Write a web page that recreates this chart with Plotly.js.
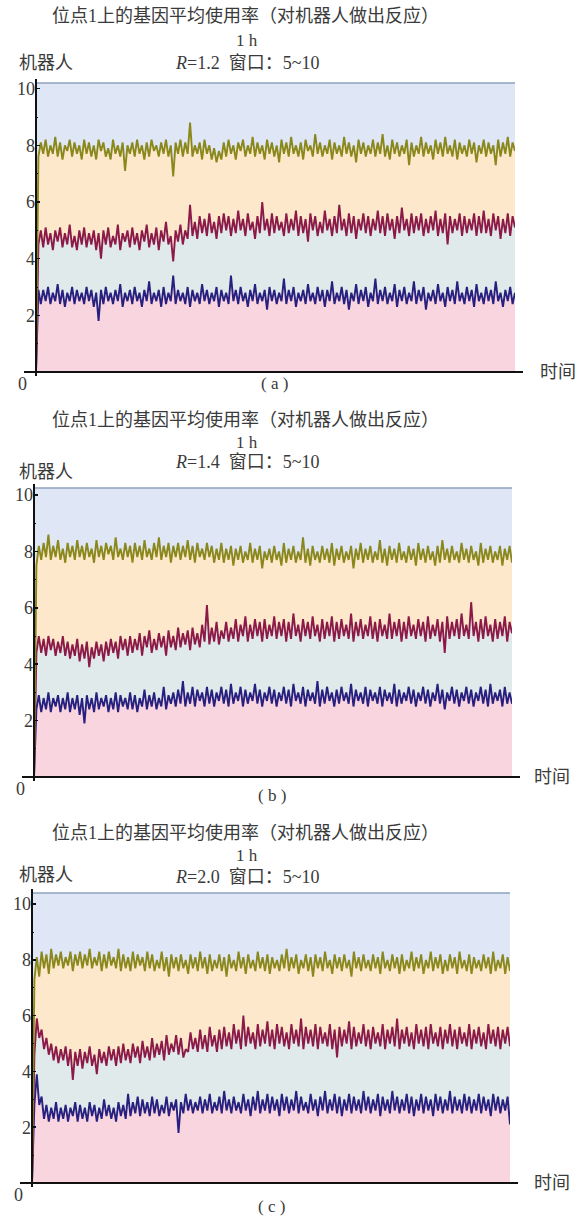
<!DOCTYPE html>
<html>
<head>
<meta charset="utf-8">
<script src="https://cdn.plot.ly/plotly-3.0.1.min.js"></script>
<style>
  html, body { margin: 0; padding: 0; background: #ffffff; }
  #chart { width: 578px; height: 1216px; }
</style>
</head>
<body>
<div id="chart"></div>
<script>
// Mean gene usage at locus 1, three runs (R = 1.2, 1.4, 2.0), three gene groups each.

const panelTags = ['( a )', '( b )', '( c )'];
const rValues = ['1.2', '1.4', '2.0'];
const yTickVals = [2, 4, 6, 8, 10];

// Run (a), R = 1.2
const aOlive = [
  0,7.6,8.1,7.7,8.2,7.6,8.0,7.7,8.3,7.6,8.1,7.5,8.0,7.8,8.2,7.6,8.1,7.7,8.0,7.5,
  8.2,7.7,8.1,7.6,8.0,7.5,8.2,7.8,8.1,7.6,7.9,7.5,8.2,7.7,8.0,7.6,8.1,7.1,8.0,7.7,
  8.1,7.6,8.2,7.7,8.0,7.5,8.1,7.6,8.2,7.8,8.0,7.6,8.1,7.7,8.2,7.6,8.0,6.9,8.1,7.7,
  8.2,7.6,8.1,7.7,8.8,7.6,8.0,7.7,8.1,7.5,8.2,7.7,8.0,7.5,7.9,7.4,7.8,7.5,8.1,7.6,
  8.2,7.7,8.0,7.5,8.1,7.8,8.2,7.6,8.0,7.7,8.3,7.6,8.1,7.7,8.0,7.5,8.2,7.7,8.1,7.6,
  8.0,7.4,8.2,7.7,8.1,7.6,8.3,7.7,8.0,7.6,8.1,7.5,8.2,7.8,8.0,7.6,8.4,7.7,8.1,7.6,
  8.0,7.7,8.2,7.5,8.1,7.7,8.0,7.6,8.3,7.7,8.1,7.6,8.0,7.4,8.2,7.7,8.1,7.6,8.0,7.7,
  8.2,7.6,8.1,7.7,8.4,7.6,8.0,7.5,8.2,7.7,8.1,7.6,8.0,7.7,8.2,7.3,8.1,7.6,8.0,7.7,
  8.3,7.6,8.1,7.7,8.0,7.5,8.2,7.7,8.1,7.6,8.3,7.7,8.0,7.6,8.2,7.5,8.1,7.7,8.0,7.6,
  8.2,7.7,8.1,7.4,8.0,7.7,8.2,7.6,8.1,7.7,8.0,7.3,8.2,7.6,8.1,7.7,8.3,7.6,8.1,7.8];
const aRed = [
  0,4.5,5.0,4.4,5.1,4.5,4.9,4.3,5.0,4.6,5.1,4.4,4.9,4.5,5.2,4.4,4.8,4.3,5.0,4.5,
  5.1,4.4,4.9,4.5,5.0,4.3,4.9,4.0,5.0,4.5,5.1,4.4,4.8,4.5,5.2,4.3,4.9,4.6,5.0,4.4,
  5.1,4.5,4.9,4.3,5.0,4.6,5.2,4.4,4.9,4.5,5.1,4.3,5.0,4.6,5.3,4.5,4.8,3.9,5.0,4.6,
  5.2,4.5,5.0,4.7,5.9,4.8,5.3,4.7,5.5,4.9,5.4,4.8,5.6,4.9,5.3,4.7,5.5,4.9,5.6,5.0,
  5.5,4.8,5.4,4.9,5.7,5.0,5.4,4.8,5.6,5.0,5.3,4.7,5.5,4.9,6.0,5.0,5.4,4.8,5.6,4.9,
  5.5,5.0,5.3,4.8,5.6,4.9,5.4,5.0,5.7,4.8,5.5,4.9,5.4,4.6,5.6,5.0,5.5,4.8,5.3,4.9,
  5.7,5.0,5.4,4.8,5.5,4.9,5.9,5.0,5.4,4.8,5.6,4.9,5.5,4.7,5.4,5.0,5.6,4.9,5.5,4.8,
  5.4,5.0,5.7,4.9,5.5,4.8,5.6,5.0,5.4,4.7,5.5,4.9,5.8,5.0,5.4,4.8,5.6,4.9,5.5,5.0,
  5.6,4.8,5.4,4.9,5.5,5.0,5.7,4.8,5.4,4.9,5.6,4.5,5.5,4.9,5.4,5.0,5.6,4.8,5.5,4.9,
  5.4,5.0,5.6,4.8,5.5,4.9,5.7,4.9,5.4,4.8,5.6,5.0,5.5,4.7,5.4,4.9,5.6,4.8,5.5,5.1];
const aBlue = [
  0,2.9,2.4,2.9,2.5,3.0,2.4,2.8,2.5,3.1,2.4,2.9,2.3,2.8,2.5,3.0,2.4,2.9,2.5,2.8,
  2.4,3.0,2.5,2.9,2.3,2.8,1.8,2.9,2.4,3.0,2.5,2.8,2.4,2.9,2.5,3.1,2.3,2.8,2.5,2.9,
  2.4,3.0,2.5,2.8,2.3,2.9,2.5,3.2,2.4,2.8,2.5,2.9,2.3,3.0,2.4,2.8,2.5,3.4,2.4,2.9,
  2.5,2.8,2.4,3.0,2.3,2.9,2.5,2.8,2.4,3.1,2.5,2.9,2.4,2.8,2.5,3.0,2.3,2.9,2.5,2.8,
  2.4,3.4,2.5,2.9,2.4,3.0,2.5,2.8,2.3,2.9,2.5,3.1,2.4,2.8,2.5,2.9,2.2,3.0,2.5,2.9,
  2.4,2.8,2.5,3.3,2.4,2.9,2.5,3.0,2.3,2.8,2.5,2.9,2.4,3.1,2.5,2.8,2.4,3.0,2.5,2.9,
  2.3,2.9,2.5,3.2,2.4,2.8,2.5,3.0,2.4,2.9,2.2,2.8,2.5,3.1,2.4,2.9,2.5,3.0,2.3,2.8,
  2.5,3.3,2.4,2.9,2.5,3.0,2.4,2.8,2.5,3.1,2.3,2.9,2.5,3.0,2.4,2.8,2.5,3.2,2.4,2.9,
  2.5,3.0,2.2,2.8,2.5,2.9,2.4,3.1,2.5,2.8,2.3,3.0,2.5,2.9,2.4,3.2,2.5,2.8,2.4,3.0,
  2.5,2.9,2.3,3.1,2.5,2.8,2.4,3.0,2.5,2.9,2.4,3.2,2.5,2.8,2.3,2.9,2.5,3.0,2.4,2.8];

// Run (b), R = 1.4
const bOlive = [
  0,7.5,8.2,7.7,8.3,7.8,8.6,7.7,8.2,7.8,8.4,7.7,8.1,7.6,8.3,7.8,8.2,7.7,8.4,7.8,
  8.2,7.7,8.3,7.8,8.1,7.6,8.4,7.8,8.2,7.7,8.3,7.9,8.2,7.7,8.5,7.8,8.1,7.7,8.3,7.8,
  8.2,7.6,8.3,7.8,8.2,7.7,8.4,7.8,8.1,7.7,8.3,7.8,8.5,7.7,8.2,7.8,8.3,7.6,8.2,7.8,
  8.3,7.7,8.2,7.8,8.4,7.7,8.2,7.6,8.3,7.8,8.1,7.7,8.3,7.8,8.2,7.6,8.1,7.7,8.3,7.6,
  8.1,7.7,8.2,7.5,8.1,7.7,8.2,7.6,8.0,7.7,8.3,7.6,8.1,7.7,8.2,7.4,8.0,7.7,8.1,7.6,
  8.2,7.7,8.0,7.5,8.3,7.6,8.1,7.7,8.2,7.6,8.0,7.7,8.5,7.6,8.1,7.5,8.2,7.7,8.0,7.6,
  8.2,7.7,8.1,7.6,8.3,7.5,8.1,7.7,8.2,7.6,8.0,7.7,8.2,7.4,8.1,7.7,8.3,7.6,8.1,7.7,
  8.2,7.6,8.0,7.7,8.4,7.6,8.1,7.5,8.2,7.7,8.1,7.6,8.3,7.7,8.0,7.6,8.2,7.7,8.1,7.5,
  8.3,7.7,8.1,7.6,8.2,7.7,8.0,7.5,8.2,7.6,8.4,7.7,8.1,7.6,8.2,7.7,8.0,7.6,8.3,7.7,
  8.1,7.6,8.2,7.7,8.0,7.5,8.3,7.6,8.1,7.7,8.2,7.6,8.0,7.7,8.2,7.5,8.1,7.7,8.2,7.6];
const bRed = [
  0,4.4,5.0,4.4,4.9,4.3,5.0,4.5,4.9,4.3,4.8,4.4,5.0,4.3,4.8,4.2,4.7,4.3,4.9,4.1,
  4.7,4.2,4.8,3.9,4.6,4.2,4.8,4.3,4.7,4.1,4.8,4.3,4.9,4.4,4.8,4.2,5.0,4.5,4.9,4.3,
  5.0,4.4,4.9,4.5,5.1,4.3,5.0,4.6,5.2,4.4,4.9,4.5,5.1,4.6,5.0,4.3,5.2,4.6,5.0,4.5,
  5.3,4.6,5.1,4.7,5.2,4.5,5.3,4.7,5.1,4.6,5.4,4.8,6.1,4.7,5.3,4.8,5.5,4.7,5.2,4.9,
  5.5,4.8,5.3,4.9,5.6,4.8,5.4,5.0,5.7,4.8,5.4,4.9,5.6,5.0,5.5,4.8,5.6,4.9,5.4,5.0,
  5.7,4.9,5.5,5.0,5.6,4.8,5.5,4.9,5.8,5.0,5.4,4.8,5.6,5.0,5.5,4.9,5.7,5.0,5.4,4.8,
  5.6,4.9,5.5,5.0,5.7,4.8,5.5,4.9,5.6,5.0,5.4,4.9,5.8,4.8,5.5,5.0,5.6,4.9,5.4,5.0,
  5.7,4.9,5.5,4.8,5.6,5.0,5.4,4.9,5.8,4.9,5.5,5.0,5.6,4.8,5.5,4.9,5.7,5.0,5.4,4.9,
  5.6,5.0,5.5,4.8,5.7,4.9,5.4,5.0,5.6,4.8,5.5,4.4,5.7,4.9,5.5,5.0,5.6,4.9,5.8,5.0,
  5.4,4.9,6.2,5.0,5.5,4.8,5.6,4.9,5.7,5.0,5.4,4.8,5.6,4.9,5.5,5.0,5.7,4.8,5.5,5.1];
const bBlue = [
  0,2.4,2.9,2.3,2.8,2.4,3.0,2.3,2.8,2.5,2.9,2.3,2.8,2.4,3.0,2.3,2.8,2.4,2.9,2.2,
  2.8,1.9,2.9,2.4,2.8,2.3,3.0,2.4,2.8,2.5,2.9,2.3,2.8,2.4,3.0,2.3,2.9,2.5,2.8,2.4,
  3.0,2.4,2.9,2.3,2.8,2.5,3.1,2.4,2.9,2.5,3.0,2.4,2.8,2.5,3.2,2.4,2.9,2.6,3.0,2.5,
  3.1,2.6,3.4,2.5,3.0,2.6,3.2,2.5,3.1,2.7,3.0,2.5,3.2,2.6,3.1,2.5,3.0,2.7,3.2,2.6,
  3.1,2.5,3.3,2.6,3.0,2.7,3.2,2.5,3.1,2.6,3.0,2.7,3.3,2.6,3.1,2.5,3.0,2.7,3.2,2.6,
  3.1,2.5,3.0,2.7,3.2,2.6,3.1,2.5,3.3,2.7,3.0,2.6,3.2,2.5,3.1,2.7,3.0,2.6,3.4,2.5,
  3.1,2.6,3.2,2.7,3.0,2.5,3.1,2.6,3.2,2.7,3.0,2.6,3.3,2.5,3.1,2.7,3.0,2.6,3.2,2.5,
  3.1,2.7,3.0,2.6,3.2,2.5,3.1,2.7,3.0,2.6,3.3,2.5,3.1,2.6,3.0,2.7,3.2,2.6,3.1,2.5,
  3.0,2.7,3.2,2.6,3.1,2.5,3.0,2.7,3.3,2.6,3.1,2.4,3.0,2.7,3.2,2.6,3.1,2.5,3.0,2.7,
  3.2,2.6,3.1,2.5,3.0,2.7,3.2,2.6,3.1,2.5,3.3,2.6,3.0,2.7,3.1,2.5,3.2,2.6,3.0,2.6];

// Run (c), R = 2.0
const cOlive = [
  0,7.3,8.1,7.4,8.3,7.7,8.2,7.5,8.4,7.7,8.2,7.8,8.3,7.7,8.1,7.8,8.3,7.6,8.2,7.8,
  8.3,7.7,8.2,7.8,8.4,7.7,8.1,7.8,8.3,7.6,8.2,7.7,8.3,7.8,8.1,7.7,8.4,7.6,8.2,7.7,
  8.1,7.6,8.3,7.7,8.2,7.8,8.1,7.6,8.3,7.7,8.2,7.6,8.0,7.7,8.3,7.6,8.1,7.4,8.2,7.7,
  8.1,7.6,8.2,7.7,8.0,7.5,8.2,7.7,8.1,7.6,8.3,7.7,8.1,7.5,8.2,7.6,8.0,7.7,8.2,7.6,
  8.1,7.4,8.2,7.7,8.0,7.6,8.3,7.7,8.1,7.5,8.2,7.7,8.0,7.6,8.3,7.7,8.1,7.6,8.2,7.5,
  8.1,7.7,8.0,7.6,8.2,7.7,8.4,7.6,8.1,7.7,8.2,7.5,8.0,7.7,8.2,7.6,8.1,7.4,8.2,7.7,
  8.1,7.6,8.3,7.7,8.0,7.5,8.2,7.7,8.1,7.6,8.2,7.7,8.0,7.4,8.3,7.7,8.1,7.6,8.2,7.7,
  8.0,7.6,8.2,7.7,8.1,7.5,8.3,7.7,8.0,7.6,8.2,7.7,8.1,7.5,8.2,7.6,8.0,7.7,8.3,7.6,
  8.1,7.7,8.2,7.5,8.0,7.7,8.3,7.6,8.1,7.7,8.2,7.5,8.0,7.6,8.2,7.7,8.1,7.5,8.3,7.7,
  8.0,7.6,8.2,7.5,8.1,7.7,8.0,7.6,8.2,7.7,8.1,7.5,8.3,7.6,8.0,7.7,8.2,7.5,8.1,7.6];
const cRed = [
  0,4.6,5.9,5.2,5.5,4.8,5.2,4.6,5.0,4.4,4.9,4.3,4.8,4.4,4.9,4.2,4.8,3.7,4.7,4.2,
  4.8,4.1,4.7,4.3,4.9,4.2,4.6,3.9,4.8,4.3,4.7,4.2,4.9,4.4,4.8,4.2,4.9,4.3,5.0,4.4,
  4.8,4.3,5.0,4.5,4.9,4.3,5.1,4.5,4.9,4.4,5.2,4.5,5.0,4.6,5.1,4.4,5.3,4.6,5.0,4.7,
  5.3,4.6,5.2,4.5,4.8,4.7,5.4,4.8,5.2,4.7,5.5,4.8,5.3,4.7,5.6,4.9,5.3,4.7,5.5,4.8,
  5.6,4.9,5.4,4.8,5.7,5.0,5.5,4.8,6.0,4.9,5.6,5.0,5.4,4.8,5.7,4.9,5.5,5.0,5.8,4.9,
  5.5,4.8,5.7,5.0,5.6,4.9,5.4,4.8,5.7,5.0,5.5,4.9,5.9,4.8,5.6,5.0,5.5,4.9,5.7,4.8,
  5.6,5.0,5.4,4.9,5.7,4.8,5.5,4.5,5.6,4.9,5.5,5.0,5.8,4.8,5.6,4.9,5.4,5.0,5.7,4.9,
  5.5,4.8,5.6,5.0,5.4,4.9,5.7,4.8,5.5,5.0,5.6,4.9,5.9,4.8,5.5,5.0,5.6,4.9,5.4,4.8,
  5.7,5.0,5.5,4.9,5.6,4.8,5.7,5.0,5.4,4.9,5.6,4.8,5.5,5.0,5.7,4.9,5.5,4.8,5.6,5.0,
  5.4,4.9,5.7,4.8,5.5,5.0,5.6,4.9,5.4,4.8,5.7,5.0,5.5,4.9,5.6,4.8,5.5,5.0,5.6,4.9];
const cBlue = [
  0,2.8,3.9,2.8,3.1,2.3,2.8,2.2,2.7,2.3,2.9,2.2,2.7,2.3,2.8,2.2,2.7,2.4,2.9,2.2,
  2.8,2.3,2.7,2.2,2.9,2.4,2.8,2.2,2.7,2.3,3.0,2.4,2.8,2.3,2.7,2.2,2.9,2.4,2.8,2.3,
  3.2,2.4,2.9,2.5,3.1,2.4,3.0,2.5,2.9,2.4,3.1,2.5,3.0,2.4,2.8,2.5,3.1,2.4,2.9,2.6,
  3.0,1.8,2.9,2.5,3.2,2.6,3.0,2.5,2.9,2.6,3.1,2.5,3.0,2.6,3.2,2.5,2.9,2.6,3.1,2.5,
  3.3,2.6,3.0,2.5,3.1,2.6,2.9,2.5,3.2,2.6,3.0,2.4,3.1,2.6,3.3,2.5,3.0,2.6,3.2,2.5,
  3.1,2.6,3.0,2.4,3.2,2.6,3.1,2.5,3.0,2.6,3.3,2.5,3.1,2.6,2.9,2.5,3.2,2.6,3.0,2.4,
  3.1,2.6,3.3,2.5,3.0,2.6,3.2,2.5,3.1,2.4,3.0,2.6,3.2,2.5,3.1,2.6,3.0,2.5,3.3,2.6,
  3.1,2.5,3.0,2.6,3.2,2.4,3.1,2.6,3.0,2.5,3.3,2.6,3.1,2.5,3.0,2.6,3.2,2.5,3.1,2.4,
  3.0,2.6,3.2,2.5,3.1,2.6,3.0,2.4,3.2,2.6,3.1,2.5,3.0,2.6,3.3,2.5,3.1,2.6,3.0,2.5,
  3.2,2.6,3.1,2.5,3.0,2.6,3.2,2.5,3.1,2.6,3.0,2.4,3.2,2.6,3.1,2.5,3.0,2.6,3.1,2.1];

const runs = [
  { olive: aOlive, red: aRed, blue: aBlue },
  { olive: bOlive, red: bRed, blue: bBlue },
  { olive: cOlive, red: cRed, blue: cBlue }
];

// ---- page geometry (pixels) ----
const W = 578, H = 1216;
const px = v => v / W;
const py = v => 1 - v / H;

const frames = [
  { left: 36, right: 515, zero: 372, top: 83,  ymax: 10.2,  titleY: 16,  hY: 40,  rY: 63,  robotY: 63,  timeX: 538, tagX: 274, tagY: 383 },
  { left: 34, right: 512, zero: 777, top: 488, ymax: 10.25, titleY: 420, hY: 442, rY: 462, robotY: 472, timeX: 532, tagX: 272, tagY: 795 },
  { left: 32, right: 510, zero: 1183, top: 893, ymax: 10.4, titleY: 833, hY: 855, rY: 877, robotY: 875, timeX: 532, tagX: 271, tagY: 1206 }
];

const COL = {
  olive: '#8a881c', red: '#8c1a48', blue: '#28207f',
  pink: '#f9d5df', mid: '#e0eaeb', orange: '#fde8cb', sky: '#dfe7f6',
  text: '#3a3a3a', axis: '#111111', topLine: '#8ea2bd'
};
const SERIF = 'Liberation Serif, DejaVu Serif, serif';
const CJK = 'Liberation Serif, Noto Sans CJK SC, sans-serif';

const traces = [];
const layout = {
  width: W, height: H,
  margin: { l: 0, r: 0, t: 0, b: 0 },
  paper_bgcolor: '#ffffff',
  plot_bgcolor: COL.sky,
  showlegend: false,
  shapes: [],
  annotations: []
};

runs.forEach((run, k) => {
  const f = frames[k];
  const sfx = k === 0 ? '' : String(k + 1);
  const xa = 'x' + sfx, ya = 'y' + sfx;
  const steps = run.blue.map((_, i) => i);

  const line = (ys, color, fill, fillcolor) => ({
    type: 'scatter', mode: 'lines', x: steps, y: ys,
    xaxis: xa, yaxis: ya,
    line: { color: color, width: 1.9 },
    fill: fill, fillcolor: fillcolor,
    hoverinfo: 'skip'
  });
  traces.push(line(run.blue, COL.blue, 'tozeroy', COL.pink));
  traces.push(line(run.red, COL.red, 'tonexty', COL.mid));
  traces.push(line(run.olive, COL.olive, 'tonexty', COL.orange));

  layout['xaxis' + sfx] = {
    domain: [px(f.left), px(f.right)],
    range: [0, steps.length - 1],
    anchor: ya,
    showgrid: false, zeroline: false, showticklabels: false, ticks: '', showline: false
  };
  layout['yaxis' + sfx] = {
    domain: [py(f.zero), py(f.top)],
    range: [0, f.ymax],
    anchor: xa,
    showgrid: false, zeroline: false, showline: false,
    tickmode: 'array', tickvals: yTickVals,
    ticks: 'inside', ticklen: 4, tickwidth: 1.5, tickcolor: COL.axis,
    minor: { tickmode: 'linear', tick0: 0, dtick: 1, ticks: 'inside', ticklen: 2, tickwidth: 1, tickcolor: COL.axis },
    tickfont: { family: SERIF, size: 18, color: COL.text }
  };

  // axis lines and the frame's top edge
  layout.shapes.push(
    { type: 'line', xref: 'paper', yref: 'paper', x0: px(f.left), x1: px(f.right), y0: py(f.top), y1: py(f.top),
      line: { color: COL.topLine, width: 1.5 } },
    { type: 'line', xref: 'paper', yref: 'paper', x0: px(f.left - 12), x1: px(f.right + 8), y0: py(f.zero), y1: py(f.zero),
      line: { color: COL.axis, width: 2 } },
    { type: 'line', xref: 'paper', yref: 'paper', x0: px(f.left), x1: px(f.left), y0: py(f.zero + 4), y1: py(f.top - 4),
      line: { color: COL.axis, width: 2 } }
  );

  const ann = (text, x, y, size, xanchor, family) => ({
    text: text, xref: 'paper', yref: 'paper', x: x, y: y,
    xanchor: xanchor || 'center', yanchor: 'middle', showarrow: false,
    font: { family: family || CJK, size: size, color: COL.text }
  });
  layout.annotations.push(
    ann('位点1上的基因平均使用率（对机器人做出反应）', px(245), py(f.titleY), 18),
    ann('1 h', px(247), py(f.hY), 17, 'center', SERIF),
    ann('<i>R</i>=' + rValues[k] + '  窗口：5~10', px(247), py(f.rY), 18),
    ann('机器人', px(17), py(f.robotY), 18, 'left'),
    ann('时间', px(f.timeX), py(f.zero), 18, 'left'),
    ann('0', px(f.left - 14), py(f.zero + 12), 18, 'center', SERIF),
    ann(panelTags[k], px(f.tagX), py(f.tagY), 17, 'center', SERIF)
  );
});

Plotly.newPlot('chart', traces, layout, { staticPlot: true, displayModeBar: false });
</script>
</body>
</html>
